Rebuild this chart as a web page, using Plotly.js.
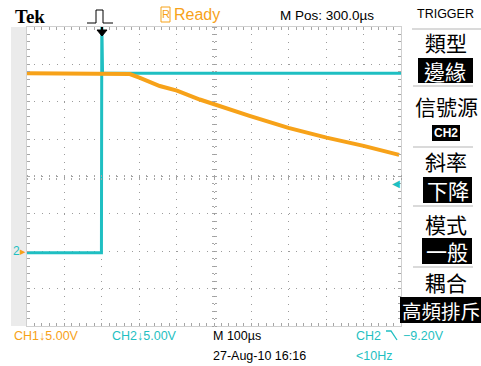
<!DOCTYPE html>
<html><head><meta charset="utf-8">
<script src="https://cdn.plot.ly/plotly-3.0.1.min.js"></script>
<style>html,body{margin:0;padding:0;background:#fff;}#chart{width:481px;height:366px;}</style>
</head><body><div id="chart"></div>
<script>
// time in microseconds relative to trigger, voltage in volts relative to channel ground
const ch1Time = [-200, 0, 62, 75, 102, 129, 155, 201, 235, 262, 395, 499, 601, 700, 795];
const ch1Volts = [23.8, 23.8, 23.8, 23.7, 23.2, 22.6, 22.1, 21.5, 20.8, 20.3, 18.1, 16.5, 15.2, 14.1, 12.9];
const ch2Time = [-200, -1, 0, 1, 2, 800];
const ch2Volts = [-0.2, -0.2, 31, 25.5, 23.8, 23.8];
const menuLabels = ['類型', '信號源', '斜率', '模式', '耦合'];
const menuValues = ['邊緣', 'CH2', '下降', '一般', '高頻排斥'];

const ORANGE = '#f7a219', CYAN = '#1fbfc2', TICK = '#a6a6a6';
const L = 27, R = 401, T = 27, B = 326;
const px = x => (x - L) / (R - L);
const py = y => (B - y) / (B - T);
const FONT = 'Liberation Sans, Arial, sans-serif';
const CJK = 'Noto Sans CJK TC, sans-serif';

function ann(text, x, y, o) {
  o = o || {};
  return {text: text, x: px(x), y: py(y), xref: 'paper', yref: 'paper', showarrow: false,
    xanchor: o.xa || 'center', yanchor: 'middle', borderpad: 0,
    font: {family: o.family || FONT, size: o.size || 13, color: o.color || '#000', weight: o.weight || 'normal'}};
}
function rect(x0, y0, x1, y1, fill, line) {
  return {type: 'rect', xref: 'paper', yref: 'paper', x0: px(x0), x1: px(x1), y0: py(y0), y1: py(y1),
    fillcolor: fill || 'rgba(0,0,0,0)', line: line || {width: 0}, layer: 'above'};
}
function hline(x0, x1, y, color) {
  return {type: 'line', xref: 'paper', yref: 'paper', x0: px(x0), x1: px(x1), y0: py(y), y1: py(y),
    line: {color: color, width: 1}, layer: 'above'};
}
function pathPx(pts, close) {
  return 'M' + pts.map(p => px(p[0]) + ',' + py(p[1])).join('L') + (close ? 'Z' : '');
}

const traces = [
  {x: ch2Time, y: ch2Volts, mode: 'lines', line: {color: CYAN, width: 3}, hoverinfo: 'skip'},
  {x: ch1Time, y: ch1Volts, mode: 'lines', line: {color: ORANGE, width: 4}, hoverinfo: 'skip'},
  {x: [null], y: [null], xaxis: 'x2', yaxis: 'y2', hoverinfo: 'skip'},
  {x: [null], y: [null], xaxis: 'x3', yaxis: 'y3', hoverinfo: 'skip'}
];

const baseX = {range: [-200, 800], showticklabels: false, zeroline: false, fixedrange: true};
const baseY = {range: [-10, 30], showticklabels: false, zeroline: false, fixedrange: true};

const shapes = [
  {type: 'rect', xref: 'paper', yref: 'paper', x0: px(11), x1: px(27), y0: 0, y1: 1, fillcolor: '#ebebeb', line: {width: 0}, layer: 'below'},
  // trigger pulse icon
  {type: 'path', xref: 'paper', yref: 'paper', path: pathPx([[87,23],[96,23],[96,10],[103,10],[103,23],[113,23]]), line: {color: '#000', width: 1}},
  // trigger position arrow
  {type: 'path', xref: 'paper', yref: 'paper', path: pathPx([[97,30],[107,30],[102,36]], true), fillcolor: '#000', line: {color: '#000', width: 1}},
  rect(101, 27, 103, 30, '#000'),
  // Ready box
  rect(161, 7, 170, 22, null, {color: ORANGE, width: 1}),
  // falling slope glyph
  {type: 'path', xref: 'paper', yref: 'paper', path: pathPx([[386,331],[391,331],[397,340]]), line: {color: CYAN, width: 1.3}},
  // menu separators
  hline(412, 481, 29, '#b5b5b5'),
  hline(413, 473, 86, '#b5b5b5'),
  hline(413, 473, 147, '#b5b5b5'),
  hline(413, 473, 206, '#b5b5b5'),
  hline(413, 473, 267, '#b5b5b5'),
  // menu value boxes
  rect(418, 58, 473, 83, '#000'),
  rect(432, 125, 460, 141, '#000'),
  rect(423, 177, 472, 203, '#000'),
  rect(422, 238, 472, 264, '#000'),
  rect(400, 297, 482, 323, '#000')
];

const labelY = [42, 106, 161, 224, 282];
const valuePos = [[445.5, 70.5], [446, 133], [447.5, 190], [447, 251], [401, 310]];
const annotations = [
  ann('Tek', 30, 16, {family: 'Liberation Serif, serif', size: 19, weight: 'bold'}),
  ann('R', 165.5, 14.5, {size: 11, color: ORANGE}),
  ann('Ready', 173, 14, {xa: 'left', size: 16, color: ORANGE}),
  ann('M Pos: 300.0µs', 327, 15, {size: 13.5}),
  ann('TRIGGER', 445.5, 14, {size: 12.5}),
  ann('CH1↓5.00V', 13, 336, {xa: 'left', size: 12.5, color: ORANGE}),
  ann('CH2↓5.00V', 111, 336, {xa: 'left', size: 12.5, color: CYAN}),
  ann('M 100µs', 212, 336, {xa: 'left', size: 12.5}),
  ann('27-Aug-10 16:16', 212, 356, {xa: 'left', size: 12.5}),
  ann('CH2', 355, 336, {xa: 'left', size: 12.5, color: CYAN}),
  ann('−9.20V', 402, 336, {xa: 'left', size: 12.5, color: CYAN}),
  ann('<10Hz', 355, 356, {xa: 'left', size: 12.5, color: CYAN}),
  ann('◀', 396, 183, {size: 10, color: CYAN}),
  ann('2', 16, 251, {size: 12, color: CYAN}),
  ann('▸', 23, 251, {size: 11, color: ORANGE})
];
menuLabels.forEach((t, i) => annotations.push(ann(t, 446, labelY[i], {family: CJK, size: 21})));
menuValues.forEach((t, i) => {
  const p = valuePos[i];
  const small = t === 'CH2';
  const last = i === 4;
  annotations.push(ann(t, p[0], p[1], {family: small ? FONT : CJK, size: small ? 12 : (last ? 19.5 : 21), color: '#fff',
    weight: small ? 'bold' : 'normal', xa: last ? 'left' : 'center'}));
});

const layout = {
  width: 481, height: 366, margin: {l: 27, r: 80, t: 27, b: 40, pad: 0},
  paper_bgcolor: '#fff', plot_bgcolor: '#fff', showlegend: false,
  xaxis: Object.assign({}, baseX, {dtick: 100, tick0: 0, showgrid: true, gridcolor: '#9c9c9c', griddash: '1px,6.48px', gridwidth: 1,
    ticks: 'inside', ticklen: 3, tickcolor: TICK, mirror: 'ticks', showline: true, linecolor: '#d0d0d0', linewidth: 1,
    minor: {dtick: 20, tick0: 0, ticks: 'inside', ticklen: 3, tickcolor: TICK, showgrid: false}}),
  yaxis: Object.assign({}, baseY, {dtick: 5, tick0: 0, showgrid: true, gridcolor: '#9c9c9c', griddash: '1px,6.48px', gridwidth: 1,
    ticks: 'inside', ticklen: 3, tickcolor: TICK, mirror: 'ticks', showline: true, linecolor: '#d0d0d0', linewidth: 1,
    minor: {dtick: 1, tick0: 0, ticks: 'inside', ticklen: 3, tickcolor: TICK, showgrid: false}}),
  xaxis2: Object.assign({}, baseX, {overlaying: 'x', anchor: 'free', position: 0.5, side: 'bottom', showgrid: false, showline: false,
    ticks: 'outside', ticklen: 2, tickcolor: TICK, dtick: 20, tick0: 0}),
  xaxis3: Object.assign({}, baseX, {overlaying: 'x', anchor: 'free', position: 0.5, side: 'top', showgrid: false, showline: false,
    ticks: 'outside', ticklen: 2, tickcolor: TICK, dtick: 20, tick0: 0}),
  yaxis2: Object.assign({}, baseY, {overlaying: 'y', anchor: 'free', position: 0.5, side: 'left', showgrid: false, showline: false,
    ticks: 'outside', ticklen: 2, tickcolor: TICK, dtick: 1, tick0: 0}),
  yaxis3: Object.assign({}, baseY, {overlaying: 'y', anchor: 'free', position: 0.5, side: 'right', showgrid: false, showline: false,
    ticks: 'outside', ticklen: 2, tickcolor: TICK, dtick: 1, tick0: 0}),
  shapes: shapes,
  annotations: annotations
};

Plotly.newPlot('chart', traces, layout, {displayModeBar: false, staticPlot: true});
</script>
</body></html>
